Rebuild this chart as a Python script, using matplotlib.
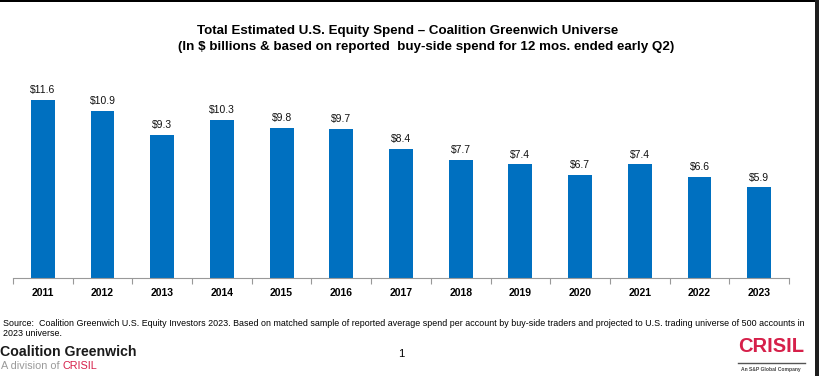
import matplotlib
matplotlib.use("Agg")
import matplotlib.pyplot as plt
from matplotlib.patches import Rectangle
from matplotlib import font_manager
import numpy as np

plt.rcParams['font.family'] = ['Liberation Sans', 'DejaVu Sans']

years = ['2011', '2012', '2013', '2014', '2015', '2016', '2017', '2018',
         '2019', '2020', '2021', '2022', '2023']
spend = [11.6, 10.9, 9.3, 10.3, 9.8, 9.7, 8.4, 7.7, 7.4, 6.7, 7.4, 6.6, 5.9]
value_labels = ['$11.6', '$10.9', '$9.3', '$10.3', '$9.8', '$9.7', '$8.4',
                '$7.7', '$7.4', '$6.7', '$7.4', '$6.6', '$5.9']

names = {f.name for f in font_manager.fontManager.ttflist}
narrow = 'Liberation Sans Narrow' if 'Liberation Sans Narrow' in names else 'Liberation Sans'

W, H = 819, 376
fig = plt.figure(figsize=(W / 100, H / 100), dpi=100)

ax = fig.add_axes([13 / W, 1 - 278 / H, (789 - 13) / W, (278 - 78.5) / H])
x = np.arange(len(years))
ax.bar(x, spend, width=0.4, color='#0070C0')
for xi, v, lab in zip(x, spend, value_labels):
    ax.annotate(lab, (xi, v), xytext=(0, 3.5), textcoords='offset points',
                ha='center', va='bottom', fontsize=7.5, color='#111111')
ax.set_xlim(-0.5, len(years) - 0.5)
ax.set_ylim(0, 13)
ax.set_xticks(x)
ax.set_xticklabels(years, fontsize=7.5, fontweight='bold')
ax.tick_params(axis='x', which='major', length=0, pad=7)
ax.set_xticks(np.arange(-0.5, len(years)), minor=True)
ax.tick_params(axis='x', which='minor', length=4, color='#999999', width=0.8)
ax.set_yticks([])
for s in ['left', 'right', 'top']:
    ax.spines[s].set_visible(False)
ax.spines['bottom'].set_color('#999999')
ax.spines['bottom'].set_linewidth(0.8)

# Title
fig.text(408 / W, 1 - 31 / H, 'Total Estimated U.S. Equity Spend – Coalition Greenwich Universe',
         ha='center', va='center', fontsize=9.6, fontweight='bold')
fig.text(426 / W, 1 - 47 / H, '(In $ billions & based on reported  buy-side spend for 12 mos. ended early Q2)',
         ha='center', va='center', fontsize=9.6, fontweight='bold')

# Source
src = fig.text(3 / W, 1 - 324 / H,
               'Source:  Coalition Greenwich U.S. Equity Investors 2023. Based on matched sample of reported average spend per account by buy-side traders and projected to U.S. trading universe of 500 accounts in',
               ha='left', va='center', fontsize=6, family=[narrow, 'DejaVu Sans'])
fig.canvas.draw()
w = src.get_window_extent().width
fs = 6 * (802 / w)
src.set_fontsize(fs)
fig.text(3 / W, 1 - 334 / H, '2023 universe.', ha='left', va='center', fontsize=fs,
         family=[narrow, 'DejaVu Sans'])

# Footer
fig.text(0 / W, 1 - 352 / H, 'Coalition Greenwich', ha='left', va='center',
         fontsize=10.2, fontweight='bold', color='#1a1a1a')
t1 = fig.text(1 / W, 1 - 366 / H, 'A division of ', ha='left', va='center',
              fontsize=7.8, color='#9a9a9a')
fig.canvas.draw()
bb = t1.get_window_extent()
fig.text(bb.x1 / W, 1 - 366 / H, 'CRISIL', ha='left', va='center',
         fontsize=7.8, color='#d6204a')
fig.text(401 / W, 1 - 354 / H, '1', ha='center', va='center', fontsize=8)

fig.text(771 / W, 1 - 347 / H, 'CRISIL', ha='center', va='center',
         fontsize=14.5, fontweight='bold', color='#d6204a')
fig.add_artist(plt.Line2D([738 / W, 805 / W], [1 - 362.5 / H, 1 - 362.5 / H],
                          color='#555555', lw=1))
fig.text(771 / W, 1 - 369 / H, 'An S&P Global Company', ha='center', va='center',
         fontsize=3.6, fontweight='bold', color='#444444')

# Frame edges
fig.add_artist(Rectangle((0, 1 - 1.5 / H), 815 / W, 1.5 / H, transform=fig.transFigure,
                         color='black', lw=0))
fig.add_artist(Rectangle((815 / W, 0), 4 / W, 1, transform=fig.transFigure,
                         color='#1e1e1e', lw=0))

fig.savefig('out.png', dpi=100)
